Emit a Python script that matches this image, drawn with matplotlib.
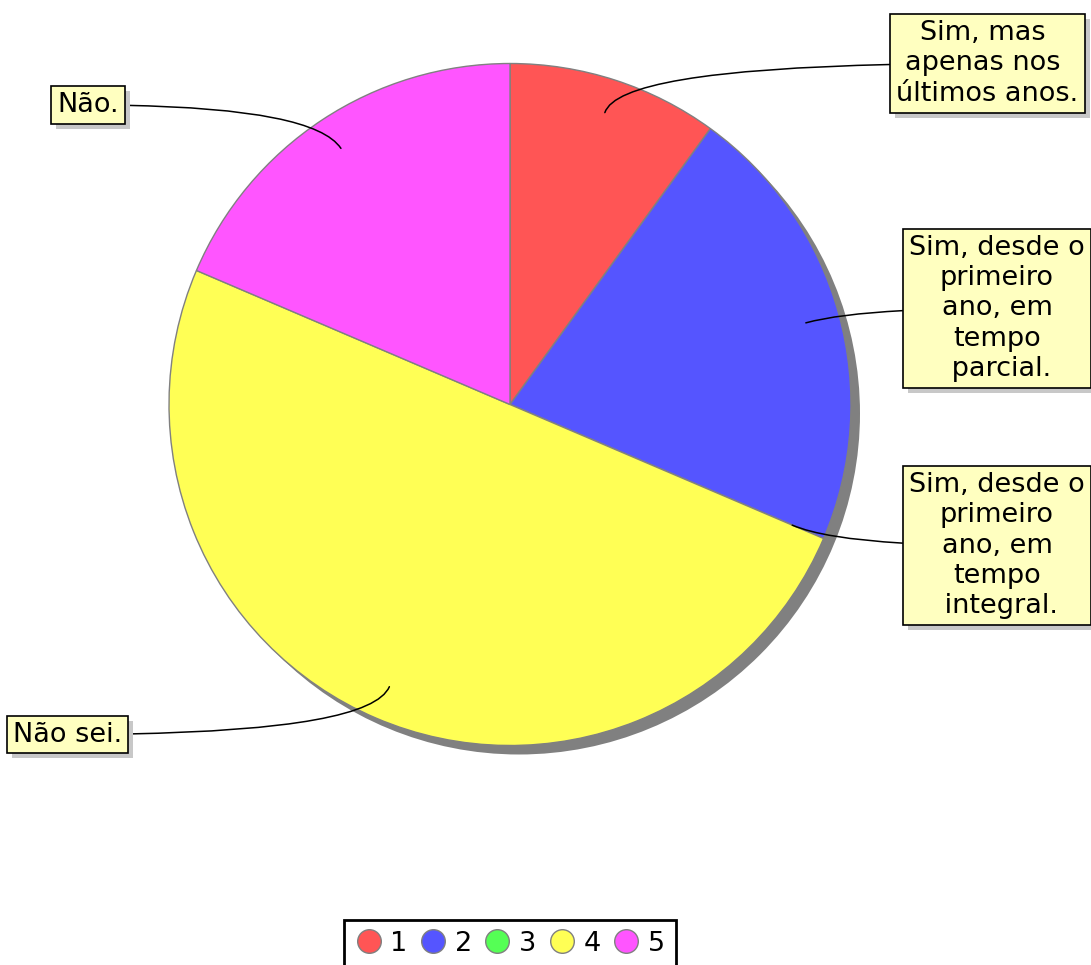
import numpy as np
import matplotlib
matplotlib.use("Agg")
import matplotlib.pyplot as plt
from matplotlib.patches import Circle
from matplotlib.lines import Line2D
from matplotlib.patheffects import SimplePatchShadow, Normal

# ---- data ----
categories = ["1", "2", "3", "4", "5"]
values = [7, 15, 0, 35, 13]
answers = [
    "Sim, mas \napenas nos \núltimos anos.",
    "Sim, desde o\nprimeiro\nano, em\ntempo\n parcial.",
    "Sim, desde o\nprimeiro\nano, em\ntempo\n integral.",
    "Não sei.",
    "Não.",
]
colors = ["#ff5555", "#5555ff", "#55ff55", "#ffff55", "#ff55ff"]

W, H = 1091, 965
fig = plt.figure(figsize=(W / 100, H / 100), dpi=100)
ax = fig.add_axes([0, 0, 1, 1])

def Y(ypx):
    return H - ypx

cx, cy, r = 510, Y(404.5), 341

# shadow
ax.add_patch(Circle((cx + 9, cy - 9), r, facecolor="#808080", edgecolor="none", zorder=0))

wedges, _ = ax.pie(values, colors=colors, startangle=90, counterclock=False,
                   center=(cx, cy), radius=r,
                   wedgeprops=dict(edgecolor="#808080", linewidth=1))
for w in wedges:
    w.set_zorder(1)

ax.set_xlim(0, W)
ax.set_ylim(0, H)
ax.set_aspect("auto")
ax.axis("off")

# label box centres (pixels)
box_pos = [(987.5, 63.5), (997, 308.5), (997, 545.5), (67.5, 734.5), (88, 105)]

for w, txt, (bx, by) in zip(wedges, answers, box_pos):
    theta = 0.5 * (w.theta1 + w.theta2)
    ax_ = cx + 0.9 * r * np.cos(np.radians(theta))
    ay_ = cy + 0.9 * r * np.sin(np.radians(theta))
    t = ax.annotate(txt, xy=(ax_, ay_), xytext=(bx, Y(by)),
                    ha="center", va="center", fontsize=19.5, linespacing=1.21,
                    multialignment="center", zorder=5,
                    bbox=dict(boxstyle="square,pad=0.22", fc="#ffffc0", ec="black", lw=1.2),
                    arrowprops=dict(arrowstyle="-", color="black", lw=1.1,
                                    connectionstyle=f"angle3,angleA=0,angleB={theta}",
                                    shrinkA=0, shrinkB=0))
    t.get_bbox_patch().set_path_effects([
        SimplePatchShadow(offset=(3.6, -3.6), shadow_rgbFace="#c8c8c8", alpha=1),
        Normal()])

handles = [Line2D([], [], ls="", marker="o", markersize=17,
                  markerfacecolor=c, markeredgecolor="#808080", markeredgewidth=1)
           for c in colors]
leg = ax.legend(handles, categories, loc="upper center",
                bbox_to_anchor=(510 / W, 1 - 920 / H), bbox_transform=fig.transFigure,
                ncol=5, fontsize=19.5, frameon=True, fancybox=False, edgecolor="black",
                framealpha=1, handlelength=1, handletextpad=0.3, columnspacing=0.44,
                borderpad=0.4, borderaxespad=0)
leg.get_frame().set_linewidth(2)

fig.savefig("out.png", dpi=100)
